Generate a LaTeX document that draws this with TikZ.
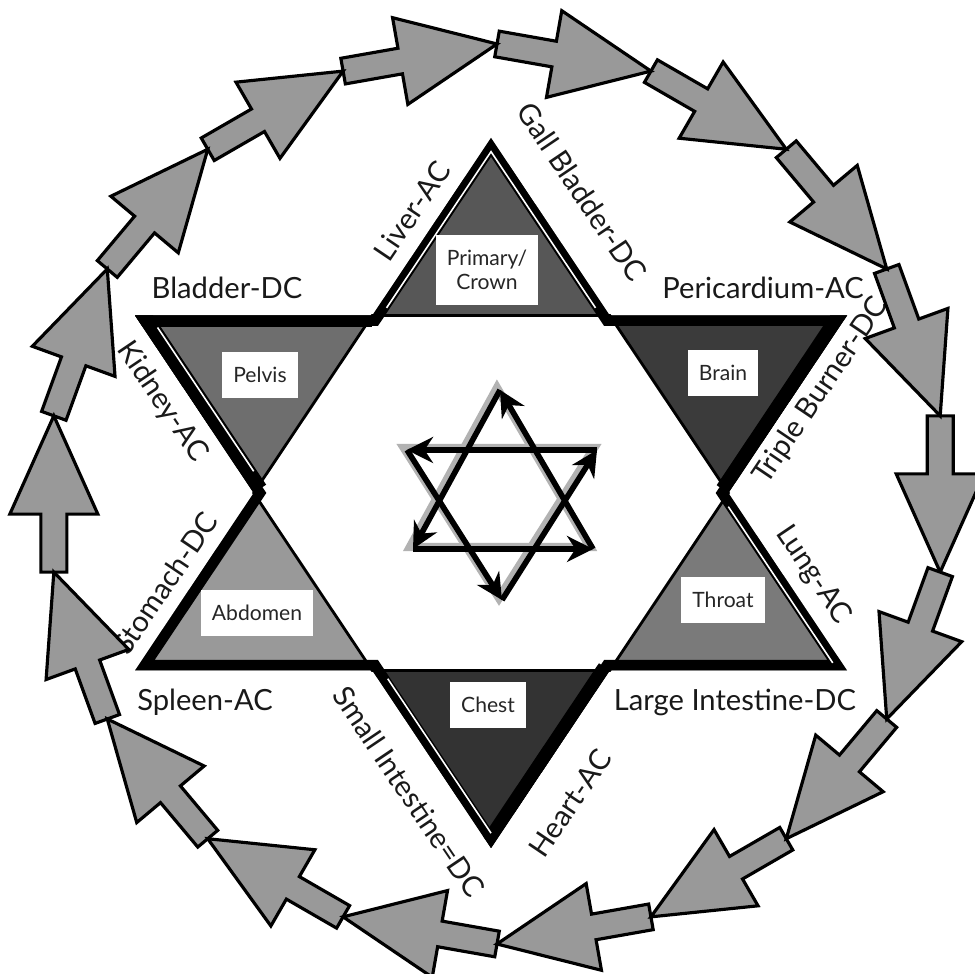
\documentclass[tikz,border=0pt]{standalone}
\usepackage{fontspec}
\setmainfont{Lato}
\usetikzlibrary{calc,arrows.meta}
\begin{document}
\begin{tikzpicture}[
  organ/.style={font=\fontsize{8.3}{9}\selectfont, text=black!90, inner sep=0pt},
  region/.style={fill=white, font=\fontsize{6}{7}\selectfont, text=black!85,
                 inner xsep=1.1mm, inner ysep=0pt, minimum height=4.6mm, align=center},
  flowarrow/.style={draw=black, line width=.9pt, fill=black!40, line join=miter},
  spin/.style={line width=1.6pt, -{Stealth[length=2.6mm,width=2.6mm]}},
  spinshade/.style={line width=2.4pt, black!30},
  band/.style={line width=#1, line join=miter},
  seam/.style={white, line width=.45pt}
]
  \useasboundingbox (0,0) rectangle (9.74,9.74);
  % outer points and inner hexagon of the big star
  \coordinate (T) at (4.91,8.36);
  \coordinate (B) at (4.91,1.26);
  \coordinate (oUL) at (1.35,6.585);
  \coordinate (oUR) at (8.47,6.585);
  \coordinate (oLL) at (1.35,3.035);
  \coordinate (oLR) at (8.47,3.035);
  \coordinate (iTL) at (3.723,6.585);
  \coordinate (iTR) at (6.097,6.585);
  \coordinate (iBL) at (3.723,3.035);
  \coordinate (iBR) at (6.097,3.035);
  \coordinate (iL) at (2.537,4.81);
  \coordinate (iR) at (7.283,4.81);
  \fill[black!66] (iTL) -- (T) -- (iTR) -- cycle;
  \fill[black!57] (oUL) -- (iTL) -- (iL) -- cycle;
  \fill[black!77] (iTR) -- (oUR) -- (iR) -- cycle;
  \fill[black!40] (iL) -- (iBL) -- (oLL) -- cycle;
  \fill[black!52] (iR) -- (oLR) -- (iBR) -- cycle;
  \fill[black!80] (iBL) -- (iBR) -- (B) -- cycle;
  \draw[line width=.8pt] (iTL) -- (iTR) -- (iR) -- (iBR) -- (iBL) -- (iL) -- cycle;
  \begin{scope}
    \clip (T) -- (iTR) -- (oUR) -- (iR) -- (oLR) -- (iBR) -- (B) -- (iBL) -- (oLL)
      -- (iL) -- (oUL) -- (iTL) -- cycle;
    \draw[band=2.1mm] (T) -- (iTR) -- (oUR) -- (iR) -- (oLR) -- (iBR) -- (B) -- (iBL)
      -- (oLL) -- (iL) -- (oUL) -- (iTL) -- cycle;
    \draw[band=2.8mm] (oUR) -- (iR);
    \draw[band=2.6mm] (iBR) -- (B);
    \draw[band=3mm] (iL) -- (oUL);
    \draw[band=2.4mm] (oUL) -- (iTL);
  \end{scope}
  % thin light seams inside some outer edges
  \coordinate (cTop) at (4.91,7.219);
  \coordinate (cPel) at (2.537,5.951);
  \coordinate (cThr) at (7.283,3.669);
  \coordinate (cChe) at (4.91,2.401);
  \draw[seam] ($(cTop)!.88!(iTL)$) -- ($(cTop)!.88!(T)$) -- ($(cTop)!.88!(iTR)$);
  \draw[seam] ($(cPel)!.81!(oUL)$) -- ($(cPel)!.81!(iL)$);
  \draw[seam] ($(cThr)!.88!(iR)$) -- ($(cThr)!.88!(oLR)$);
  \draw[seam] ($(cChe)!.87!(iBL)$) -- ($(cChe)!.87!(B)$);

  \node[region, inner ysep=1.5mm] (crown) at (4.87,7.04) {Primary/\\Crown};
  \node[region] (pelvis) at (2.60,5.99) {Pelvis};
  \node[region] (brain) at (7.23,6.01) {Brain};
  \node[region] (abdomen) at (2.57,3.61) {Abdomen};
  \node[region] (throat) at (7.23,3.74) {Throat};
  \node[region] (chest) at (4.88,2.69) {Chest};

  \node[organ] (bladder) at (2.27,6.86) {Bladder-DC};
  \node[organ] (pericard) at (7.63,6.86) {Pericardium-AC};
  \node[organ] (spleen) at (2.05,2.72) {Spleen-AC};
  \node[organ] (lgint) at (7.35,2.72) {Large Intestine-DC};
  \node[organ, rotate=56] (liver) at (4.12,7.63) {Liver-AC};
  \node[organ, rotate=-56] (gall) at (5.82,7.82) {Gall Bladder-DC};
  \node[organ, rotate=-56] (kidney) at (1.62,5.72) {Kidney-AC};
  \node[organ, rotate=56] (triple) at (8.21,5.83) {Triple Burner-DC};
  \node[organ, rotate=56] (stomach) at (1.65,3.91) {Stomach-DC};
  \node[organ, rotate=-56] (lung) at (8.13,3.99) {Lung-AC};
  \node[organ, rotate=-56] (smint) at (4.09,1.82) {Small Intestine=DC};
  \node[organ, rotate=56] (heart) at (5.70,1.71) {Heart-AC};

  % small star of arrows in the middle
  \coordinate (sA) at (5.00,5.84);
  \coordinate (sBL) at (4.13,4.25);
  \coordinate (sBR) at (5.93,4.25);
  \coordinate (sTL) at (4.07,5.24);
  \coordinate (sTR) at (5.97,5.24);
  \coordinate (sB) at (5.02,3.74);
  \begin{scope}[transform canvas={shift={(-.03,.02)}}]
    \draw[spinshade] (sA) -- (sBL) -- (sBR) -- cycle;
    \draw[spinshade] (sB) -- (sTR) -- (sTL) -- cycle;
  \end{scope}
  \draw[spin] (sA) -- (sBL);
  \draw[spin] (sBL) -- (sBR);
  \draw[spin] (sBR) -- (sA);
  \draw[spin] (sB) -- (sTR);
  \draw[spin] (sTR) -- (sTL);
  \draw[spin] (sTL) -- (sB);

  % ring of block arrows
  \foreach \a in {10,30,...,350}
    \draw[flowarrow, shift={(4.97,4.80)}, shift={(\a:4.5)}, rotate=\a-100]
      (0,-.13) -- (.58,-.13) -- (.58,-.44) -- (1.563,0) -- (.58,.44) -- (.58,.13)
      -- (0,.13) -- cycle;
\end{tikzpicture}
\end{document}
